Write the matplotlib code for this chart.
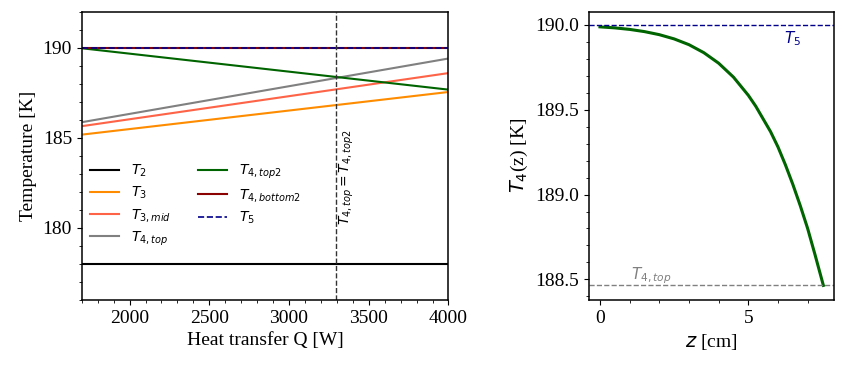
import matplotlib
matplotlib.use("Agg")
import matplotlib.pyplot as plt
from matplotlib.ticker import MultipleLocator, FormatStrFormatter

plt.rcParams['font.family'] = ['Liberation Serif', 'DejaVu Serif']
plt.rcParams['mathtext.fontset'] = 'dejavusans'

# left panel: temperatures vs heat transfer
Q = [1700, 4000]
T2 = [178.0, 178.0]
T3 = [185.18, 187.55]
T3_mid = [185.65, 188.6]
T4_top = [185.87, 189.41]
T4_top2 = [189.98, 187.68]
T4_bottom2 = [190.0, 190.0]
T5 = [190.0, 190.0]
Q_cross = 3295

# right panel: T4 profile along z
z = [0.0, 0.5, 1.0, 1.5, 2.0, 2.5, 3.0, 3.5, 4.0, 4.5, 5.0, 5.25, 5.5, 5.75,
     6.0, 6.25, 6.5, 6.75, 7.0, 7.25, 7.53]
T4_z = [189.987, 189.981, 189.972, 189.959, 189.941, 189.916, 189.882, 189.835,
        189.773, 189.691, 189.584, 189.52, 189.445, 189.37, 189.28, 189.175,
        189.06, 188.935, 188.80, 188.645, 188.465]
T5_const = 190.0
T4_top_const = 188.465

fig = plt.figure(figsize=(8.47, 3.72), dpi=100)
ax1 = fig.add_axes([0.0965, 0.194, 0.433, 0.774])
ax2 = fig.add_axes([0.6954, 0.194, 0.2893, 0.774])

ax1.plot(Q, T2, color='black', lw=1.5, label='$T_2$')
ax1.plot(Q, T3, color='darkorange', lw=1.5, label='$T_3$')
ax1.plot(Q, T3_mid, color='tomato', lw=1.5, label='$T_{3,mid}$')
ax1.plot(Q, T4_top, color='gray', lw=1.5, label='$T_{4,top}$')
ax1.plot(Q, T4_top2, color='darkgreen', lw=1.5, label='$T_{4,top2}$')
ax1.plot(Q, T4_bottom2, color='darkred', lw=1.5, label='$T_{4,bottom2}$')
ax1.plot(Q, T5, color='darkblue', lw=1.2, ls='--', label='$T_5$')
ax1.axvline(Q_cross, color='#333333', lw=1.0, ls='--')
ax1.text(3365, 182.8, '$T_{4,top}=T_{4,top2}$', rotation=90, ha='center', va='center',
         fontsize=10)

ax1.set_xlim(1700, 4000)
ax1.set_ylim(176, 192)
ax1.xaxis.set_major_locator(MultipleLocator(500))
ax1.xaxis.set_minor_locator(MultipleLocator(100))
ax1.yaxis.set_major_locator(MultipleLocator(5))
ax1.yaxis.set_minor_locator(MultipleLocator(1))
ax1.set_xlabel('Heat transfer Q [W]', fontsize=14)
ax1.set_ylabel('Temperature [K]', fontsize=14)
ax1.legend(ncol=2, frameon=False, fontsize=10, loc='upper left',
           bbox_to_anchor=(0.008, 0.495), borderaxespad=0, handlelength=2.1,
           columnspacing=2.0, labelspacing=0.4)

ax2.plot(z, T4_z, color='darkgreen', lw=2.2)
ax2.axhline(T5_const, color='darkblue', lw=1.0, ls='--')
ax2.axhline(T4_top_const, color='gray', lw=1.0, ls='--')
ax2.text(6.5, 189.915, '$T_5$', color='darkblue', ha='center', va='center', fontsize=11)
ax2.text(1.72, 188.525, '$T_{4,top}$', color='gray', ha='center', va='center', fontsize=11)
ax2.set_xlim(-0.37, 7.89)
ax2.set_ylim(188.38, 190.075)
ax2.xaxis.set_major_locator(MultipleLocator(5))
ax2.xaxis.set_minor_locator(MultipleLocator(1))
ax2.yaxis.set_major_locator(MultipleLocator(0.5))
ax2.yaxis.set_minor_locator(MultipleLocator(0.1))
ax2.yaxis.set_major_formatter(FormatStrFormatter('%.1f'))
ax2.set_xlabel('$z$ [cm]', fontsize=14)
ax2.set_ylabel('$T_4$(z) [K]', fontsize=14)

for ax in (ax1, ax2):
    ax.tick_params(labelsize=14)
    for s in ax.spines.values():
        s.set_linewidth(1.1)

fig.savefig('out.png', dpi=100)
